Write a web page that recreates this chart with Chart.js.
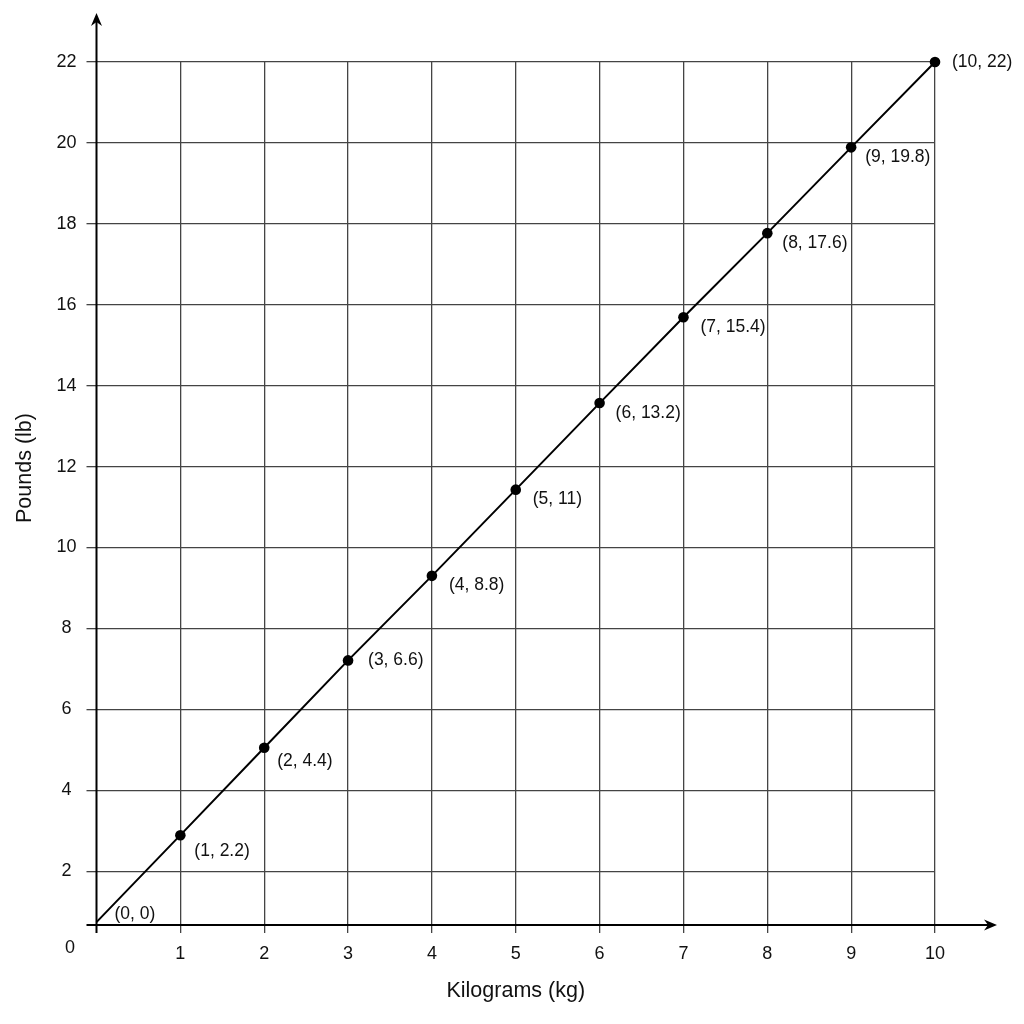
<!DOCTYPE html>
<html>
<head>
<meta charset="utf-8">
<script src="https://cdn.jsdelivr.net/npm/chart.js@4.4.1/dist/chart.umd.min.js"></script>
<style>
  html, body { margin: 0; padding: 0; background: #ffffff; }
  #wrap { width: 1024px; height: 1024px; position: relative; }
</style>
</head>
<body>
<div id="wrap"><canvas id="kgChart"></canvas></div>
<script>
// values
const kilograms = [0, 1, 2, 3, 4, 5, 6, 7, 8, 9, 10];
const poundsPlotted = [0.74, 2.89, 5.05, 7.21, 9.3, 11.43, 13.57, 15.69, 17.77, 19.89, 22.0];
const pointLabels = ["(0, 0)", "(1, 2.2)", "(2, 4.4)", "(3, 6.6)", "(4, 8.8)", "(5, 11)",
  "(6, 13.2)", "(7, 15.4)", "(8, 17.6)", "(9, 19.8)", "(10, 22)"];
const xTicks = [1, 2, 3, 4, 5, 6, 7, 8, 9, 10];
const yTicks = [2, 4, 6, 8, 10, 12, 14, 16, 18, 20, 22];

// label placement next to each dot (left edge / vertical middle)
const labelOffsets = [[18, -8], [14, 16], [13, 13], [20, 0], [17, 9], [17, 10],
  [16, 10], [17, 10], [15, 10], [14, 10], [17, 0]];

const FONT = "'Liberation Sans', Arial, sans-serif";
const INK = "#111111";
const GRID = "#444444";

function arrowHead(ctx, x, y, dir) {
  // small stealth arrow, dir: "up" or "right"
  ctx.save();
  ctx.translate(x, y);
  if (dir === "up") ctx.rotate(-Math.PI / 2);
  ctx.beginPath();
  ctx.moveTo(0, 0);
  ctx.lineTo(-13, -5.5);
  ctx.lineTo(-9, 0);
  ctx.lineTo(-13, 5.5);
  ctx.closePath();
  ctx.fillStyle = "#000";
  ctx.fill();
  ctx.restore();
}

const decorations = {
  id: "decorations",
  afterDatasetsDraw(chart) {
    const { ctx } = chart;
    const xs = chart.scales.x;
    const ys = chart.scales.y;
    const x0 = xs.left;
    const y0 = ys.bottom;

    ctx.save();
    ctx.strokeStyle = "#000";
    ctx.lineWidth = 2;
    ctx.beginPath();
    ctx.moveTo(x0 - 10, y0);
    ctx.lineTo(990, y0);
    ctx.moveTo(x0, y0 + 8);
    ctx.lineTo(x0, 20);
    ctx.stroke();
    arrowHead(ctx, 997, y0, "right");
    arrowHead(ctx, x0, 13, "up");

    ctx.fillStyle = INK;
    ctx.font = `18px ${FONT}`;
    ctx.textAlign = "center";
    ctx.textBaseline = "middle";
    ctx.fillText("0", 70, 948);

    // y axis title, centred on the drawn axis
    ctx.save();
    ctx.translate(25, 468);
    ctx.rotate(-Math.PI / 2);
    ctx.font = `21.5px ${FONT}`;
    ctx.fillText("Pounds (lb)", 0, 0);
    ctx.restore();

    const meta = chart.getDatasetMeta(0);
    ctx.font = `17.5px ${FONT}`;
    ctx.textAlign = "left";
    meta.data.forEach((pt, i) => {
      const [dx, dy] = labelOffsets[i];
      ctx.fillText(pointLabels[i], pt.x + dx, pt.y + dy);
    });
    ctx.restore();
  }
};

new Chart(document.getElementById("kgChart"), {
  type: "line",
  data: {
    labels: kilograms,
    datasets: [
      {
        label: "Pounds",
        data: kilograms.map((kg, i) => ({ x: kg, y: poundsPlotted[i] })),
        borderColor: "#000",
        borderWidth: 2,
        backgroundColor: "#000",
        pointBackgroundColor: "#000",
        pointBorderWidth: 0,
        pointRadius: kilograms.map((kg) => (kg === 0 ? 0 : 5.3)),
        tension: 0,
        fill: false,
        clip: false
      }
    ]
  },
  options: {
    responsive: true,
    maintainAspectRatio: false,
    animation: false,
    layout: { padding: { top: 62, right: 89, bottom: 0, left: 0 } },
    plugins: {
      legend: { display: false },
      tooltip: { enabled: false }
    },
    scales: {
      x: {
        type: "linear",
        min: 0,
        max: 10,
        afterBuildTicks: (scale) => {
          scale.ticks = xTicks.map((v) => ({ value: v }));
        },
        afterFit: (scale) => {
          scale.height = 99;
        },
        grid: { color: GRID, lineWidth: 1.3, tickLength: 8, tickColor: GRID },
        border: { display: false },
        ticks: {
          color: INK,
          font: { family: FONT, size: 18 },
          padding: 10,
          maxRotation: 0
        },
        title: {
          display: true,
          text: "Kilograms (kg)",
          color: INK,
          font: { family: FONT, size: 21.5 },
          padding: { top: 0, bottom: 20 }
        }
      },
      y: {
        type: "linear",
        min: 0.67,
        max: 22,
        afterBuildTicks: (scale) => {
          scale.ticks = yTicks.map((v) => ({ value: v }));
        },
        afterFit: (scale) => {
          scale.width = 96.5;
        },
        grid: { color: GRID, lineWidth: 1.3, tickLength: 10, tickColor: GRID },
        border: { display: false },
        ticks: {
          color: INK,
          font: { family: FONT, size: 18 },
          padding: 10,
          crossAlign: "center"
        }
      }
    }
  },
  plugins: [decorations]
});
</script>
</body>
</html>
